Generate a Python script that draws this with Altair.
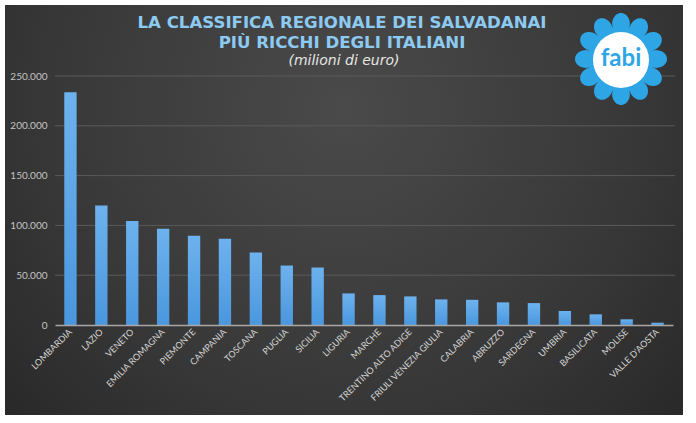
import math
import altair as alt
import pandas as pd

regions = ["LOMBARDIA", "LAZIO", "VENETO", "EMILIA ROMAGNA", "PIEMONTE", "CAMPANIA",
           "TOSCANA", "PUGLIA", "SICILIA", "LIGURIA", "MARCHE", "TRENTINO ALTO ADIGE",
           "FRIULI VENEZIA GIULIA", "CALABRIA", "ABRUZZO", "SARDEGNA", "UMBRIA",
           "BASILICATA", "MOLISE", "VALLE D'AOSTA"]
values = [233700, 120000, 104300, 96700, 89700, 86700, 72700, 59700, 57700, 31700,
          30000, 28700, 25700, 25300, 22700, 22000, 14000, 10700, 5700, 2300]
grid_ticks = [0, 50000, 100000, 150000, 200000, 250000]

title_lines = ["LA CLASSIFICA REGIONALE DEI SALVADANAI", "PIÙ RICCHI DEGLI ITALIANI"]
subtitle = "(milioni di euro)"

df = pd.DataFrame({"regione": regions, "valore": values})

W, H = 618, 249
PAD = {"left": 55, "top": 76, "right": 23, "bottom": 98}

# decorative flower path for the logo
pts = []
N = 480
for i in range(N):
    t = 2 * math.pi * i / N
    r = 0.7 + 0.3 * math.sqrt(abs(math.cos(6 * t)))
    pts.append((r * math.cos(t), r * math.sin(t)))
flower = "M " + " L ".join(f"{x:.3f} {y:.3f}" for x, y in pts) + " Z"

one = alt.Data(values=[{}])

panel = alt.Chart(one).mark_rect(
    color=alt.RadialGradient(
        gradient="radial",
        x1=0.5, y1=0.35, x2=0.5, y2=0.35, r1=0, r2=0.85,
        stops=[alt.GradientStop(color="#4a4a4a", offset=0),
               alt.GradientStop(color="#383838", offset=0.5),
               alt.GradientStop(color="#1e1e1e", offset=1)],
    )
).encode(
    x=alt.value(-50), x2=alt.value(628), y=alt.value(-71), y2=alt.value(339)
)

grid = alt.Chart(pd.DataFrame({"t": grid_ticks[1:]})).mark_rule(
    color="#5a5a5a", strokeWidth=1
).encode(
    y=alt.Y("t:Q", scale=alt.Scale(domain=[0, 250000])),
    x=alt.value(0), x2=alt.value(W + 2),
)

bars = alt.Chart(df).mark_bar(
    color=alt.LinearGradient(
        gradient="linear", x1=0, x2=0, y1=0, y2=1,
        stops=[alt.GradientStop(color="#6db2ee", offset=0),
               alt.GradientStop(color="#4a97de", offset=1)],
    )
).encode(
    x=alt.X("regione:N", sort=regions, title=None,
            scale=alt.Scale(paddingInner=0.6, paddingOuter=0.3),
            axis=alt.Axis(labelAngle=-45, labelColor="#d4d4d4", labelFontSize=9,
                          labelFont="Lato", ticks=False, domainColor="#a8a8a8",
                          domainWidth=1.5, labelPadding=5, zindex=1,
                          labelAlign="right", labelBaseline="middle")),
    y=alt.Y("valore:Q", title=None,
            scale=alt.Scale(domain=[0, 250000]),
            axis=alt.Axis(values=grid_ticks, grid=False, domain=False, ticks=False,
                          labelColor="#c4c4c4", labelFontSize=10, labelFont="Lato",
                          labelPadding=8, zindex=1,
                          labelExpr="replace(format(datum.value, ',d'), ',', '.')")),
)

t1 = alt.Chart(one).mark_text(
    text=title_lines[0], font="DejaVu Sans", fontWeight="bold", fontSize=16.6,
    color="#8ccaf2"
).encode(x=alt.value(287), y=alt.value(-53))
t2 = alt.Chart(one).mark_text(
    text=title_lines[1], font="DejaVu Sans", fontWeight="bold", fontSize=16.6,
    color="#8ccaf2"
).encode(x=alt.value(287), y=alt.value(-33))
t3 = alt.Chart(one).mark_text(
    text=subtitle, font="DejaVu Sans", fontStyle="italic", fontSize=14, color="#e6e6e6"
).encode(x=alt.value(289), y=alt.value(-15))

logo_petals = alt.Chart(one).mark_point(
    shape=flower, filled=True, color="#2ea6e6", opacity=1, size=8464
).encode(x=alt.value(566), y=alt.value(-17))
logo_center = alt.Chart(one).mark_point(
    shape="circle", filled=True, color="#ffffff", opacity=1, size=3136
).encode(x=alt.value(566), y=alt.value(-16))
logo_text = alt.Chart(one).mark_text(
    text="fabi", font="Lato", fontWeight="bold", fontSize=24, color="#2ea6e6"
).encode(x=alt.value(566), y=alt.value(-17))

chart = alt.layer(
    panel, grid, bars, t1, t2, t3, logo_petals, logo_center, logo_text
).properties(
    width=W, height=H, padding=PAD, background="#ffffff",
    autosize=alt.AutoSizeParams(type="none"),
).configure_view(stroke=None)

chart.save("out.html", embed_options={"renderer": "svg", "actions": False})
